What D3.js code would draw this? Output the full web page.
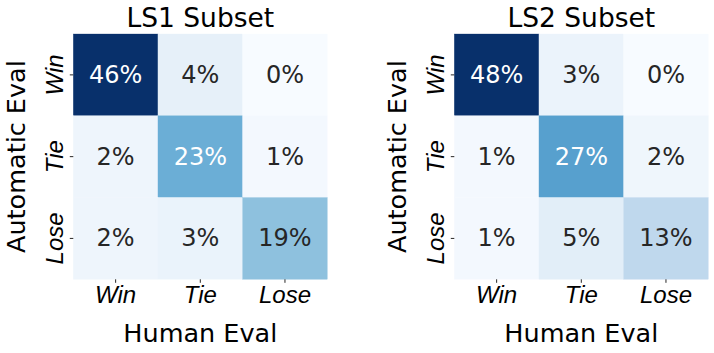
<!DOCTYPE html>
<html>
<head>
<meta charset="utf-8">
<script src="https://cdn.jsdelivr.net/npm/d3@7"></script>
<style>
  html, body { margin: 0; padding: 0; background: #fff; }
  svg { display: block; font-family: "DejaVu Sans", sans-serif; }
</style>
</head>
<body>
<div id="chart"></div>
<script>
// data
const categories = ['Win', 'Tie', 'Lose'];
const titles = ['LS1 Subset', 'LS2 Subset'];
const ls1Values = [
  [46, 4, 0],
  [2, 23, 1],
  [2, 3, 19],
];
const ls2Values = [
  [48, 3, 0],
  [1, 27, 2],
  [1, 5, 13],
];
const xLabel = 'Human Eval';
const yLabel = 'Automatic Eval';

const width = 714;
const height = 353;
const panelLeft = [73.3, 454.3];
const panelTop = 34;
const panelWidth = 254;
const panelHeight = 245.3;

const svg = d3.select('#chart').append('svg').attr('width', width).attr('height', height);

// matplotlib "Blues" is a linear blend of the 9 brewer colours
const blues = d3
  .scaleLinear()
  .domain(d3.range(9).map((i) => i / 8))
  .range(d3.schemeBlues[9])
  .interpolate(d3.interpolateRgb);

function luminance(c) {
  const rgb = d3.rgb(c);
  const ch = [rgb.r, rgb.g, rgb.b].map((v) => {
    v = v / 255;
    return v <= 0.03928 ? v / 12.92 : Math.pow((v + 0.055) / 1.055, 2.4);
  });
  return 0.2126 * ch[0] + 0.7152 * ch[1] + 0.0722 * ch[2];
}

function heatmap(g, values, title) {
  const cells = [];
  values.forEach((row, r) => row.forEach((v, c) => cells.push({ row: categories[r], col: categories[c], value: v })));

  const xScale = d3.scaleBand().domain(categories).range([0, panelWidth]);
  const yScale = d3.scaleBand().domain(categories).range([0, panelHeight]);
  const vmax = d3.max(cells, (d) => d.value);
  const color = (v) => blues(v / vmax);

  g.selectAll('.cell')
    .data(cells)
    .enter()
    .append('rect')
    .classed('cell', true)
    .attr('x', (d) => xScale(d.col))
    .attr('y', (d) => yScale(d.row))
    .attr('width', xScale.bandwidth())
    .attr('height', yScale.bandwidth())
    .style('fill', (d) => color(d.value))
    .style('stroke', (d) => color(d.value))
    .style('stroke-width', 0.3);

  g.selectAll('.annot')
    .data(cells)
    .enter()
    .append('text')
    .classed('annot', true)
    .attr('x', (d) => xScale(d.col) + xScale.bandwidth() / 2)
    .attr('y', (d) => yScale(d.row) + yScale.bandwidth() / 2)
    .attr('dy', '0.33em')
    .attr('text-anchor', 'middle')
    .style('font-size', '24px')
    .style('fill', (d) => (luminance(color(d.value)) > 0.408 ? '#262626' : '#ffffff'))
    .text((d) => d.value + '%');

  const xAxis = d3.axisBottom(xScale).tickSize(3.5).tickPadding(0);
  const gx = g.append('g').attr('transform', `translate(0,${panelHeight})`).call(xAxis);
  gx.select('.domain').remove();
  gx.selectAll('line').style('stroke', '#262626').style('stroke-width', 1);
  gx.selectAll('text')
    .attr('y', 24)
    .attr('dy', 0)
    .style('font-size', '24px')
    .style('font-style', 'italic')
    .style('fill', '#000');

  const yAxis = d3.axisLeft(yScale).tickSize(3.5).tickPadding(0);
  const gy = g.append('g').call(yAxis);
  gy.select('.domain').remove();
  gy.selectAll('line').style('stroke', '#262626').style('stroke-width', 1);
  gy.selectAll('text')
    .attr('transform', 'rotate(-90)')
    .attr('x', 0)
    .attr('y', -10)
    .attr('dy', 0)
    .attr('text-anchor', 'middle')
    .style('font-size', '24px')
    .style('font-style', 'italic')
    .style('fill', '#000');

  g.append('text')
    .attr('x', panelWidth / 2)
    .attr('y', -7.3)
    .attr('text-anchor', 'middle')
    .style('font-size', '26.5px')
    .text(title);

  g.append('text')
    .attr('x', panelWidth / 2)
    .attr('y', panelHeight + 63)
    .attr('text-anchor', 'middle')
    .style('font-size', '25.5px')
    .text(xLabel);

  g.append('text')
    .attr('transform', `translate(-48,${panelHeight / 2}) rotate(-90)`)
    .attr('text-anchor', 'middle')
    .style('font-size', '25.5px')
    .text(yLabel);
}

[ls1Values, ls2Values].forEach((values, i) => {
  const g = svg.append('g').attr('transform', `translate(${panelLeft[i]},${panelTop})`);
  heatmap(g, values, titles[i]);
});
</script>
</body>
</html>
